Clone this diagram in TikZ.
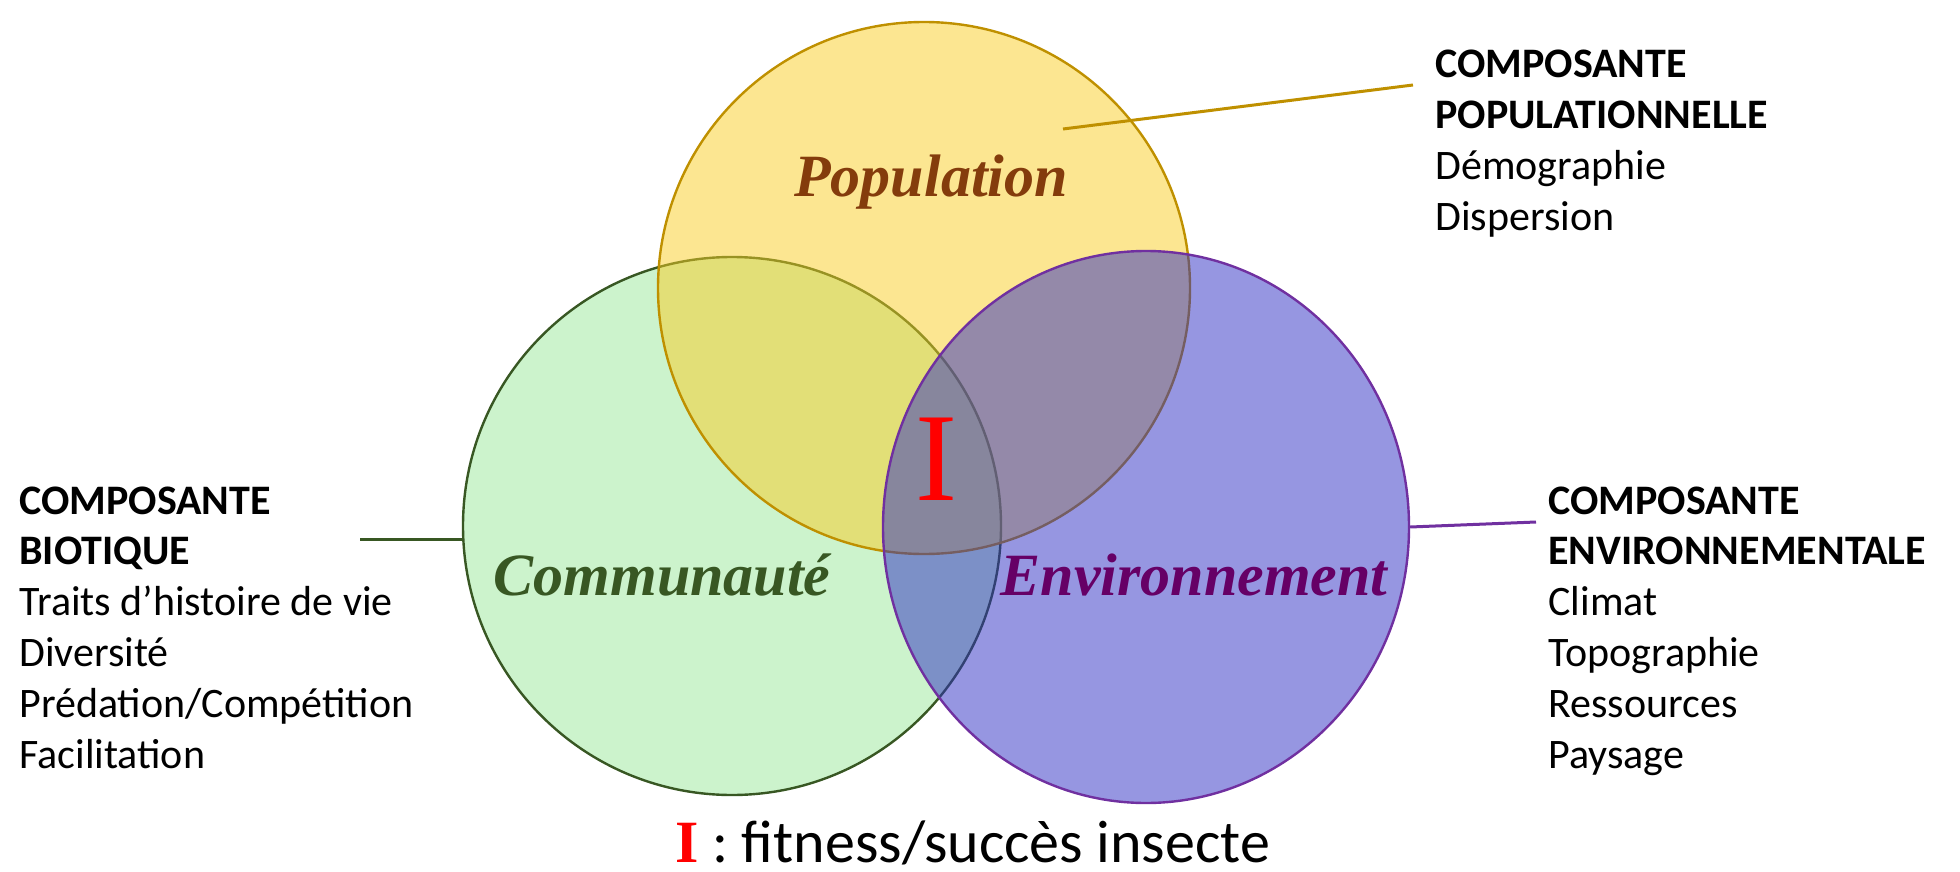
\documentclass[tikz,border=0pt]{standalone}
\usepackage{fontspec}
\setmainfont{Carlito}
\newfontfamily\romanfont{Liberation Serif}
\usetikzlibrary{shapes.geometric}

\definecolor{popfill}{RGB}{249,205,35}
\definecolor{popline}{RGB}{191,144,0}
\definecolor{poptext}{RGB}{132,60,12}
\definecolor{comfill}{RGB}{153,231,153}
\definecolor{comline}{RGB}{56,87,35}
\definecolor{envfill}{RGB}{45,45,195}
\definecolor{envline}{RGB}{112,48,160}
\definecolor{envtext}{RGB}{102,0,102}

\tikzset{
	zone/.style={draw,line width=1.2pt,fill opacity=0.5,inner sep=0pt},
	zonename/.style={anchor=base,inner sep=0pt,font=\romanfont\bfseries\itshape\fontsize{30pt}{36pt}\selectfont},
	compo/.style={align=left,anchor=base west,inner sep=0pt,font=\fontsize{21pt}{25.4pt}\selectfont},
	link/.style={line width=1.5pt}
}

\begin{document}
\begin{tikzpicture}[x=0.5pt,y=-0.5pt]
	\useasboundingbox (0,0) rectangle (1960,872);
	
	% the three sets (green first, the others lie over it)
	\node[zone,circle,draw=comline,fill=comfill,minimum size=269pt] (com) at (732,526) {};
	\node[zone,circle,draw=popline,fill=popfill,minimum size=266pt] (pop) at (924,288) {};
	\node[zone,ellipse,draw=envline,fill=envfill,minimum width=263pt,minimum height=276pt] (env) at (1146,527) {};
	
	\node[zonename,text=poptext] (popname) at (931,197) {Population};
	\node[zonename,text=comline] (comname) at (662,595) {Communauté};
	\node[zonename,text=envtext] (envname) at (1194,595) {Environnement};
	\node[anchor=base,inner sep=0pt,text=red,font=\romanfont\fontsize{63pt}{70pt}\selectfont] (insect) at (936,500) {I};
	
	% components around the sets (placed by their last line)
	\node[compo] (popcomp) at (1435,230) {\textbf{COMPOSANTE}\\\textbf{POPULATIONNELLE}\\Démographie\\Dispersion};
	\node[compo] (biocomp) at (19,768) {\textbf{COMPOSANTE}\\\textbf{BIOTIQUE}\\Traits d’histoire de vie\\Diversité\\Prédation/Compétition\\Facilitation};
	\node[compo] (envcomp) at (1548,768) {\textbf{COMPOSANTE}\\\textbf{ENVIRONNEMENTALE}\\Climat\\Topographie\\Ressources\\Paysage};
	
	\coordinate (popin) at (1063,129);
	\coordinate (poptip) at (1413,85);
	\coordinate (biotip) at (360,539);
	\coordinate (envtip) at (1536,522);
	\draw[link,popline] (popin)--(poptip);
	\draw[link,comline] (biotip)--(biotip -| com.west);
	\draw[link,envline] (env.east)--(envtip);
	
	\node[anchor=base west,inner sep=0pt,font=\fontsize{30pt}{36pt}\selectfont] (legend) at (675,862) {{\romanfont\bfseries\color{red}I} : fitness/succès insecte};
\end{tikzpicture}
\end{document}
